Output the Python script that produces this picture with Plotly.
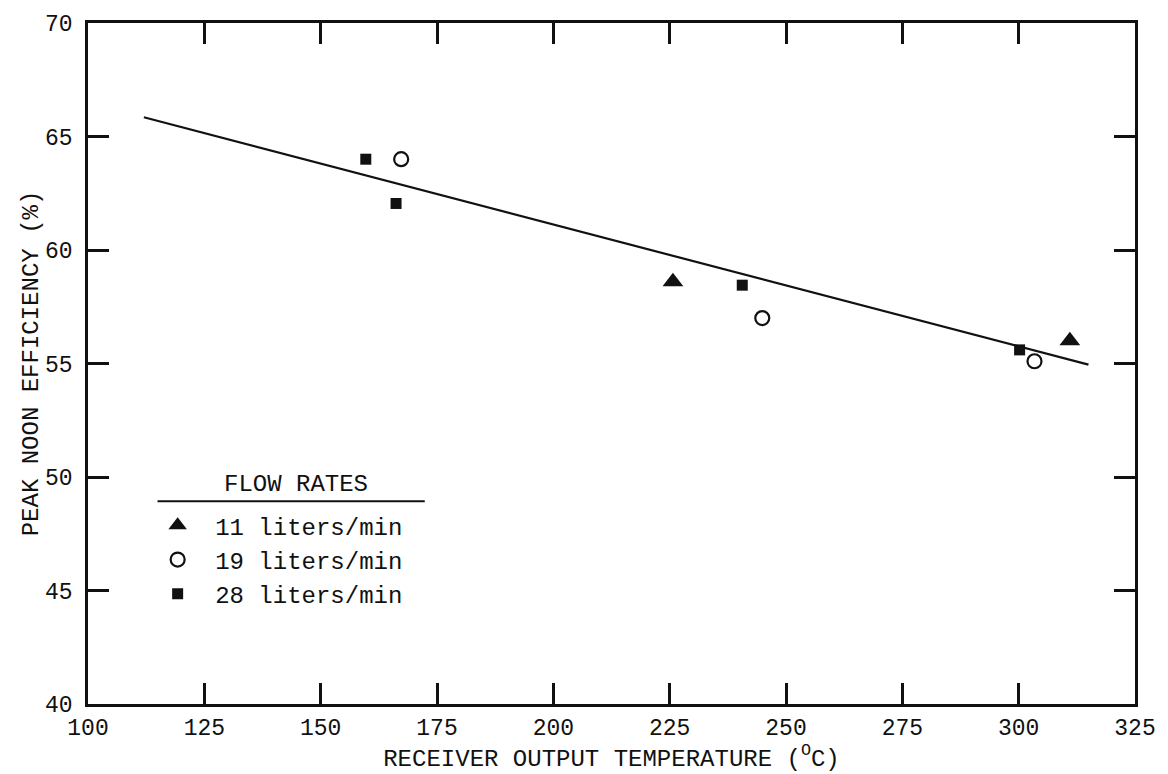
import plotly.graph_objects as go

# Data
t11 = [225.7, 311.0]
e11 = [58.6, 56.0]
t19 = [167.3, 244.9, 303.4]
e19 = [64.0, 57.0, 55.1]
t28 = [159.7, 166.2, 240.6, 300.2]
e28 = [64.0, 62.05, 58.45, 55.6]
fit_t = [112.0, 315.0]
fit_e = [65.85, 54.95]

x_ticks = [100, 125, 150, 175, 200, 225, 250, 275, 300, 325]
y_ticks = [40, 45, 50, 55, 60, 65, 70]

FONT = "Liberation Mono, Courier New, monospace"
INK = "#111111"

fig = go.Figure()
fig.add_trace(go.Scatter(x=fit_t, y=fit_e, mode="lines",
                         line=dict(color=INK, width=2.2), showlegend=False, hoverinfo="skip"))
fig.add_trace(go.Scatter(x=t11, y=e11, mode="markers", name="11 liters/min", legendgroup="a",
                         marker=dict(symbol="triangle-up", size=18, color=INK)))
fig.add_trace(go.Scatter(x=t19, y=e19, mode="markers", name="19 liters/min", legendgroup="b",
                         marker=dict(symbol="circle-open", size=14, color=INK,
                                     line=dict(width=2.2, color=INK))))
fig.add_trace(go.Scatter(x=t28, y=e28, mode="markers", name="28 liters/min", legendgroup="c",
                         marker=dict(symbol="square", size=11, color=INK)))

axis_common = dict(showline=True, linecolor=INK, linewidth=2.8, mirror="allticks",
                   ticks="inside", ticklen=21, tickwidth=2.5, tickcolor=INK,
                   showgrid=False, zeroline=False,
                   tickfont=dict(family=FONT, size=23, color=INK))

fig.update_xaxes(range=[100, 325], tickvals=x_ticks, ticktext=[str(v) for v in x_ticks],
                 title=dict(text="RECEIVER OUTPUT TEMPERATURE (<sup>O</sup>C)",
                            font=dict(family=FONT, size=24, color=INK), standoff=4),
                 **axis_common)
fig.update_yaxes(range=[40, 70], tickvals=y_ticks, ticktext=[str(v) for v in y_ticks],
                 ticklabelstandoff=8,
                 title=dict(text="PEAK NOON EFFICIENCY (%)",
                            font=dict(family=FONT, size=24, color=INK), standoff=0),
                 **axis_common)

W, H = 1168, 774
ml, mr, mt, mb = 88, 26, 16, 66
pw = W - ml - mr
ph = H - mt - mb

def px_x(p):
    return (p - ml) / pw

def px_y(p):
    return 1 - (p - mt) / ph

fig.add_shape(type="line", xref="paper", yref="paper",
              x0=px_x(158), x1=px_x(427), y0=px_y(502), y1=px_y(502),
              line=dict(color=INK, width=2))
fig.add_annotation(text="FLOW RATES", xref="paper", yref="paper",
                   x=px_x(297), y=px_y(485), xanchor="center", yanchor="middle",
                   showarrow=False, font=dict(family=FONT, size=24, color=INK))

fig.update_layout(
    width=W, height=H,
    margin=dict(l=ml, r=mr, t=mt, b=mb),
    paper_bgcolor="white", plot_bgcolor="white",
    font=dict(family=FONT, size=23, color=INK),
    showlegend=True,
    legend=dict(x=px_x(140.5), y=px_y(504), xanchor="left", yanchor="top",
                bgcolor="rgba(0,0,0,0)", borderwidth=0,
                font=dict(family=FONT, size=24, color=INK),
                tracegroupgap=0, itemwidth=65),
)

fig.write_html("out.html")
